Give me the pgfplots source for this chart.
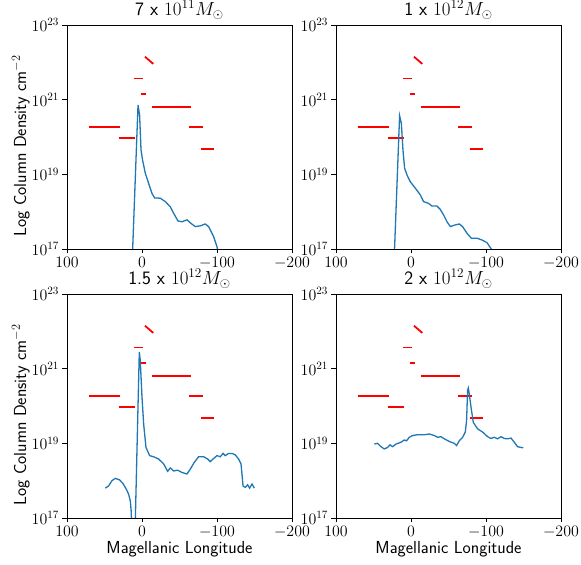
\IfFileExists{fix-cm.sty}{\RequirePackage{fix-cm}}{}
\documentclass[border=0pt]{standalone}
\usepackage{pgfplots}
\pgfplotsset{compat=1.18}
\usepgfplotslibrary{groupplots}
\definecolor{mplblue}{HTML}{1F77B4}

% observed column densities, same in every panel
\newcommand\obsdata{%
  \addplot[red, line width=1.8bp] coordinates {(-4,1.41e22) (-15,9.1e21)};
  \addplot[red, line width=1.8bp] coordinates {(11,3.7e21) (-1,3.7e21)};
  \addplot[red, line width=1.8bp] coordinates {(1,1.41e21) (-6,1.41e21)};
  \addplot[red, line width=1.8bp] coordinates {(-14,6.5e20) (-66,6.5e20)};
  \addplot[red, line width=1.8bp] coordinates {(71,1.88e20) (29,1.88e20)};
  \addplot[red, line width=1.8bp] coordinates {(31,9.3e19) (9,9.3e19)};
  \addplot[red, line width=1.8bp] coordinates {(-63,1.88e20) (-81,1.88e20)};
  \addplot[red, line width=1.8bp] coordinates {(-79,4.8e19) (-96,4.8e19)};
}

\begin{document}
\begin{tikzpicture}
\begin{groupplot}[
  group style={group size=2 by 2, horizontal sep=44bp, vertical sep=45bp,
    xticklabels at=all, yticklabels at=all},
  scale only axis, width=225bp, height=224bp,
  ymode=log, ymin=1e17, ymax=1e23,
  ytick={1e17,1e19,1e21,1e23}, minor ytick={},
  xmin=-200, xmax=100, x dir=reverse,
  xtick={-200,-100,0,100},
  tick pos=left, tick align=outside, major tick length=4.5bp,
  axis line style={line width=0.8bp}, every tick/.style={black, line width=0.8bp},
  tick label style={font=\fontsize{16}{19}\selectfont},
  title style={font=\fontsize{19}{22}\selectfont\sffamily, at={(axis description cs:0.5,1)}, anchor=base, yshift=3.5bp, inner sep=0pt},
  label style={font=\fontsize{17.5}{20}\selectfont\sffamily, inner sep=0pt},
  y label style={at={(axis description cs:-0.205,0.46)}, anchor=center},
  x label style={at={(axis description cs:0.5,-0.14)}, anchor=center},
  clip=true,
]
\nextgroupplot[title={7 x $10^{11} M_\odot$}, ylabel={Log Column Density cm$^{-2}$}]
\coordinate (tl) at (rel axis cs:0,1);
\obsdata
\addplot[mplblue, line width=1.3bp] coordinates {
(13,5e16) (5.3,7.19e20) (3.2,3.89e20) (1.3,4.47e19) (-0.8,2.40e19) (-4.4,1.07e19)
(-8.8,5.75e18) (-13.3,3.09e18) (-16.8,2.34e18) (-24.4,2.29e18) (-31.1,1.86e18)
(-37.7,1.35e18) (-42.1,9.12e17) (-48,5.62e17) (-53.3,5.37e17) (-60,6.03e17)
(-64.4,5.01e17) (-71.1,3.98e17) (-77.7,4.17e17) (-84.4,4.68e17) (-88.8,3.98e17)
(-95.5,2.14e17) (-100,1.15e17) (-101.5,8e16)};

\nextgroupplot[title={1 x $10^{12} M_\odot$}]
\obsdata
\addplot[mplblue, line width=1.3bp] coordinates {
(22.5,5e16) (15.2,3.72e20) (12.9,2.34e20) (10.7,4.47e19) (8.5,1.45e19) (5.3,9.55e18)
(0.9,6.31e18) (-5.7,4.27e18) (-12.4,2.82e18) (-16.8,1.86e18) (-23.5,1.66e18)
(-28,1.41e18) (-34.7,1.41e18) (-39,1.15e18) (-43.5,8.13e17) (-48,5.37e17)
(-52.4,3.98e17) (-58.1,4.37e17) (-64.4,4.68e17) (-68.8,3.98e17) (-74.7,2.63e17)
(-80.4,1.95e17) (-88,1.95e17) (-94.7,1.74e17) (-101.3,1.48e17) (-107,1e17) (-108,8e16)};

\nextgroupplot[title={1.5 x $10^{12} M_\odot$}, ylabel={Log Column Density cm$^{-2}$}, xlabel={Magellanic Longitude}]
\obsdata
\addplot[mplblue, line width=1.3bp] coordinates {
(48.9,6.31e17) (44.5,7.24e17) (40,1e18) (35.6,1.15e18) (29.9,1.05e18) (25.3,8.32e17)
(20.9,5.89e17) (17.9,4.37e17) (15.6,2.88e17) (14.5,1.6e17) (12,1e16) (10,1e16)
(3.6,2.82e21) (2.3,1.66e21) (0,1.74e20) (-2.2,3.31e19) (-5.3,7.76e18) (-10.2,4.68e18)
(-15.5,4.37e18) (-22.2,3.80e18) (-28.8,2.82e18) (-34.2,1.78e18) (-37.7,2.19e18)
(-42.2,1.82e18) (-47.5,1.91e18) (-53.3,1.66e18) (-60,1.51e18) (-64.4,2.04e18)
(-69.7,3.09e18) (-75.5,4.37e18) (-82.2,4.37e18) (-87.5,3.80e18) (-91,3.24e18)
(-94.7,3.80e18) (-100,4.68e18) (-104.4,4.37e18) (-108,5.37e18) (-111,4.68e18)
(-115.5,5.37e18) (-120,5.37e18) (-124.4,4.90e18) (-128.8,3.80e18) (-132,2.82e18)
(-133.3,1.51e18) (-134.7,7.24e17) (-137.7,6.61e17) (-140.8,7.76e17) (-143.5,6.31e17)
(-146.7,8.13e17) (-149.7,6.31e17)};

\nextgroupplot[title={2 x $10^{12} M_\odot$}, xlabel={Magellanic Longitude}]
\obsdata
\addplot[mplblue, line width=1.3bp] coordinates {
(48.9,9.55e18) (44.5,1.0e19) (40,8.13e18) (35.6,7.08e18) (31.2,7.76e18) (28,9.12e18)
(24.5,8.13e18) (20,9.55e18) (13.3,1.07e19) (8.9,1.23e19) (5.9,1.17e19) (2.3,1.45e19)
(-2.1,1.62e19) (-8.8,1.70e19) (-17.7,1.70e19) (-24.4,1.78e19) (-31.1,1.62e19)
(-35.5,1.45e19) (-40,1.51e19) (-44.4,1.32e19) (-51.1,1.12e19) (-57.7,1.0e19)
(-60.8,8.71e18) (-64.4,1.17e19) (-68.8,1.45e19) (-72.4,2.0e19) (-74.1,4.07e19)
(-75.5,2.63e20) (-76.4,3.02e20) (-77.7,2.14e20) (-80,9.33e19) (-83.1,3.63e19)
(-88.8,2.45e19) (-95.5,2.0e19) (-102.1,1.51e19) (-106.7,1.35e19) (-111,1.45e19)
(-115.5,1.32e19) (-120,1.51e19) (-124.4,1.35e19) (-128.8,1.32e19) (-133.3,1.38e19)
(-137.7,1.07e19) (-142.1,8.13e18) (-146.7,7.76e18) (-149.7,7.59e18)};
\end{groupplot}
\pgfresetboundingbox
\path[use as bounding box] (tl) ++(-67bp,25bp) rectangle ++(581bp,-565bp);
\end{tikzpicture}
\end{document}
